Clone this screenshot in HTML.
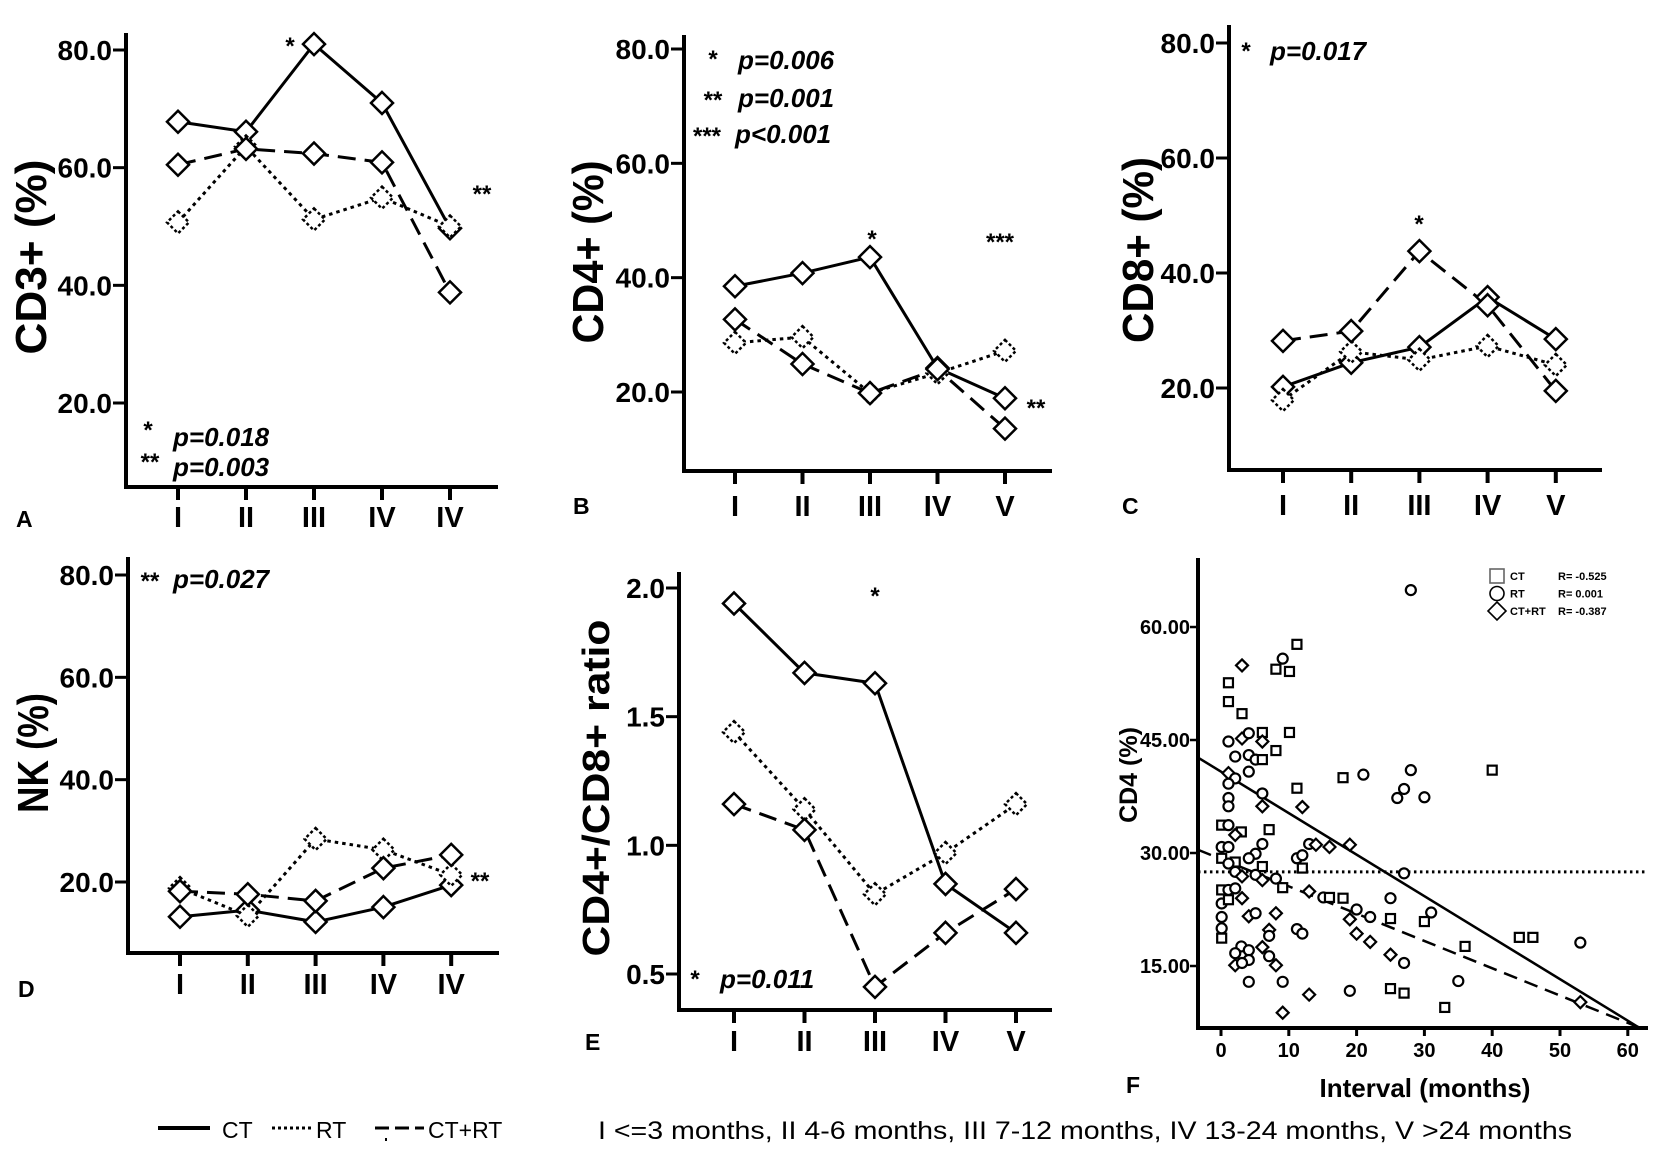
<!DOCTYPE html>
<html><head><meta charset="utf-8"><style>
html,body{margin:0;padding:0;background:#fff;}
svg{display:block;font-family:"Liberation Sans",Arial,sans-serif;}
</style></head><body>
<svg id="fig" width="1654" height="1157" viewBox="0 0 1654 1157"></svg>
<script>
// ---------- data ----------
const categoriesAD = ["I","II","III","IV","IV"];
const categoriesBCE = ["I","II","III","IV","V"];
const cd3CT = [67.8,66.1,81.0,71.0,49.7];
const cd3RT = [50.7,63.6,51.2,54.9,50.0];
const cd3Combo = [60.5,63.2,62.4,60.9,38.8];
const cd4CT = [38.5,40.8,43.6,24.2,18.9];
const cd4RT = [28.6,29.6,19.8,23.3,27.2];
const cd4Combo = [32.7,24.9,19.8,24.0,13.6];
const cd8CT = [20.2,24.4,27.1,35.8,28.5];
const cd8RT = [17.9,26.3,24.9,27.3,24.0];
const cd8Combo = [28.2,29.9,43.8,34.4,19.5];
const nkCT = [13.2,14.5,12.2,15.1,19.4];
const nkRT = [18.8,13.4,28.4,26.3,21.4];
const nkCombo = [18.2,17.6,16.3,22.7,25.3];
const ratioCT = [1.94,1.67,1.63,0.85,0.66];
const ratioRT = [1.44,1.14,0.81,0.97,1.16];
const ratioCombo = [1.16,1.06,0.45,0.66,0.83];
const pctTicks = ["20.0","40.0","60.0","80.0"];
const ratioTicks = ["0.5","1.0","1.5","2.0"];
const scatterTicksX = [0,10,20,30,40,50,60];
const scatterTicksY = ["15.00","30.00","45.00","60.00"];
const scatterMonths = [28,11.2,9.1,8.1,10.1,3.1,1.1,1.1,3.1,1.1,3.1,4.1,6.1,10.1,6.1,8.1,2.1,4.1,5.1,6.1,4.1,1.1,2.1,1.1,18,21,28,40,26,27,30,11.2,6.1,1.1,1.1,6.1,12,0.1,1.1,3,2.1,7.1,6.1,0.1,1.1,5.1,4.1,0.1,2.1,1.1,2.1,3.1,6.1,5.1,6.1,8.1,9.1,11.2,12,12,13,14,16,19,27,13,15.1,16,18,25,0.1,1.1,2.1,0.1,1.1,3.1,20,19,22,25,30,31,0.1,4.1,5.1,8.1,0.1,0.1,7.1,7.1,11.2,12,20,22,44,46,36,25,27,3,4.1,2.1,4.1,6.1,7.1,8.1,2.1,3.1,4.1,9.1,13,19,25,27,35,33,9.1,53,53];
const scatterCD4 = [64.9,57.7,55.8,54.4,54.1,54.9,52.6,50.1,48.5,44.8,45.2,45.9,46.0,46.0,44.8,43.6,42.8,43.0,42.4,42.4,40.8,40.6,39.9,39.2,40.0,40.4,41.0,41.0,37.3,38.5,37.4,38.6,37.9,37.3,36.2,36.2,36.1,33.7,33.7,32.8,32.4,33.1,31.2,30.8,30.8,29.9,29.3,29.3,28.8,28.6,27.5,26.9,28.2,27.1,26.4,26.6,25.4,29.3,29.7,28.0,31.2,31.1,30.8,31.1,27.3,24.9,24.1,24.1,24.0,24.0,25.1,25.1,25.3,23.3,23.8,24.0,22.5,21.2,21.5,21.3,20.9,22.1,21.5,21.6,22.0,22.0,20.0,18.7,19.8,19.0,19.9,19.3,19.3,18.2,18.8,18.8,17.6,16.5,15.4,17.6,17.1,16.7,15.8,17.5,16.3,15.1,15.1,15.4,12.9,12.9,11.2,11.7,12.0,11.4,13.0,9.5,8.8,18.1,10.2];
const scatterGroup = ["c","s","c","s","s","d","s","s","s","c","d","c","s","s","d","s","c","c","c","s","c","d","c","c","s","c","c","s","c","c","c","s","c","c","c","d","d","s","c","s","d","s","c","c","c","c","c","s","s","c","c","d","s","c","d","c","s","c","c","s","c","d","d","d","c","d","c","s","s","c","s","c","c","c","s","d","c","d","c","s","s","c","c","d","c","d","c","s","d","c","c","c","d","d","s","s","s","d","c","c","c","c","c","d","c","d","d","c","c","c","d","c","s","s","c","s","d","c","d"];
const fitIntercepts = [40.8,29.2,27.5];
const fitSlopes = [-0.551,-0.3625,0];
const legendR = ["R= -0.525","R=  0.001","R= -0.387"];

// ---------- helpers ----------
const NS="http://www.w3.org/2000/svg";
const svg=document.getElementById('fig');
function mk(tag,attrs,parent){const e=document.createElementNS(NS,tag);for(const k in attrs)e.setAttribute(k,attrs[k]);(parent||svg).appendChild(e);return e;}
function txt(s,attrs,parent){const e=mk('text',attrs,parent);e.textContent=s;return e;}
const DASH={ct:"none",rt:"3.5,4",combo:"18,9"};

function linePanel(p){
  const g=mk('g',{});
  
  
  const yv=v=>p.yTop+(p.vTop-v)*(p.yBot-p.yTop)/(p.vTop-p.vBot);
  const xc=i=>p.x0+i*p.dx;
  const ya=mk('line',{x1:p.ax,y1:p.axTop,x2:p.ax,y2:p.axY+2,stroke:'#000','stroke-width':4},g);
  
  
  const xa=mk('line',{x1:p.ax-2,y1:p.axY,x2:p.axRight,y2:p.axY,stroke:'#000','stroke-width':4},g);
  
  
  p.ticks.forEach((t,i)=>{
    const y=yv(p.tickVals[i]);
    mk('line',{x1:p.ax-13,y1:y,x2:p.ax,y2:y,stroke:'#000','stroke-width':3},g);
    const tl=txt(t,{x:p.ax-14,y:y+10,'text-anchor':'end','font-size':28,'font-weight':'bold'},g);
    
    
  });
  p.cats.forEach((c,i)=>{
    const x=xc(i);
    mk('line',{x1:x,y1:p.axY,x2:x,y2:p.axY+13,stroke:'#000','stroke-width':4},g);
    const cl=txt(c,{x:x,y:p.catY,'text-anchor':'middle','font-size':29,'font-weight':'bold'},g);
    
    
  });
  const yt=txt(p.title,{x:0,y:0,transform:`translate(${p.titleX},${p.titleY}) rotate(-90)`,'text-anchor':'middle','font-size':p.titleSize,'font-weight':'bold',textLength:p.titleLen,lengthAdjust:'spacingAndGlyphs'},g);
  
  
  const pl=txt(p.letter,{x:p.letterX,y:p.letterY,'font-size':23,'font-weight':'bold'},g);
  
  
  const series=[[p.ct,'ct'],[p.rt,'rt'],[p.combo,'combo']];
  series.forEach(([vals,k])=>{
    const pts=vals.map((v,i)=>xc(i)+','+yv(v)).join(' ');
    const l=mk('polyline',{points:pts,fill:'none',stroke:'#000','stroke-width':3,'stroke-dasharray':DASH[k]},g);
    
    
  });
  series.forEach(([vals,k])=>{
    vals.forEach((v,i)=>{
      const x=xc(i),y=yv(v),h=11;
      const m=mk('polygon',{points:`${x},${y-h} ${x+h},${y} ${x},${y+h} ${x-h},${y}`,fill:'#fff',stroke:'#000','stroke-width':2.5,'stroke-dasharray':k==='rt'?'3,2.5':'none'},g);
      
      
    });
  });
  p.notes.forEach(n=>{
    const t=txt(n[0],{x:n[1],y:n[2],'font-size':n[3]||26,'font-weight':'bold','font-style':n[4]?'italic':'normal','text-anchor':n[5]||'start'},g);
    
    
  });
}

linePanel({name:'panel-a-cd3',ax:126,axTop:33,axY:487,axRight:498,x0:178,dx:68,yTop:50,yBot:403,vTop:80,vBot:20,
  ticks:pctTicks,tickVals:[20,40,60,80],cats:categoriesAD,catY:527,ct:cd3CT,rt:cd3RT,combo:cd3Combo,
  title:'CD3+ (%)',titleX:46,titleY:257,titleSize:44,titleLen:195,letter:'A',letterX:16,letterY:527,
  notes:[['*',148,438,24,false,'middle'],['p=0.018',173,446,26,true],['**',150,470,24,false,'middle'],['p=0.003',173,476,26,true],['*',290,54,24,false,'middle'],['**',482,202,24,false,'middle']]});
linePanel({name:'panel-b-cd4',ax:684,axTop:35,axY:471,axRight:1052,x0:735,dx:67.5,yTop:49,yBot:392,vTop:80,vBot:20,
  ticks:pctTicks,tickVals:[20,40,60,80],cats:categoriesBCE,catY:516,ct:cd4CT,rt:cd4RT,combo:cd4Combo,
  title:'CD4+ (%)',titleX:603,titleY:252,titleSize:44,titleLen:183,letter:'B',letterX:573,letterY:514,
  notes:[['*',713,67,24,false,'middle'],['p=0.006',738,69,26,true],['**',713,108,24,false,'middle'],['p=0.001',738,107,26,true],['***',707,144,24,false,'middle'],['p<0.001',735,143,26,true],['*',872,247,24,false,'middle'],['***',1000,250,24,false,'middle'],['**',1036,416,24,false,'middle']]});
linePanel({name:'panel-c-cd8',ax:1229,axTop:25,axY:470,axRight:1602,x0:1283,dx:68.2,yTop:43,yBot:388,vTop:80,vBot:20,
  ticks:pctTicks,tickVals:[20,40,60,80],cats:categoriesBCE,catY:515,ct:cd8CT,rt:cd8RT,combo:cd8Combo,
  title:'CD8+ (%)',titleX:1153,titleY:250,titleSize:44,titleLen:186,letter:'C',letterX:1122,letterY:514,
  notes:[['*',1246,59,24,false,'middle'],['p=0.017',1270,60,26,true],['*',1419,232,24,false,'middle']]});
linePanel({name:'panel-d-nk',ax:128,axTop:557,axY:953,axRight:499,x0:180,dx:67.8,yTop:575,yBot:882,vTop:80,vBot:20,
  ticks:pctTicks,tickVals:[20,40,60,80],cats:categoriesAD,catY:994,ct:nkCT,rt:nkRT,combo:nkCombo,
  title:'NK (%)',titleX:48,titleY:753,titleSize:44,titleLen:120,letter:'D',letterX:18,letterY:997,
  notes:[['**',150,589,24,false,'middle'],['p=0.027',173,588,26,true],['**',480,889,24,false,'middle']]});
linePanel({name:'panel-e-ratio',ax:679,axTop:572,axY:1010,axRight:1052,x0:734,dx:70.5,yTop:588,yBot:974,vTop:2.0,vBot:0.5,
  ticks:ratioTicks,tickVals:[0.5,1.0,1.5,2.0],cats:categoriesBCE,catY:1051,ct:ratioCT,rt:ratioRT,combo:ratioCombo,
  title:'CD4+/CD8+ ratio',titleX:609,titleY:788,titleSize:38,titleLen:337,letter:'E',letterX:585,letterY:1050,
  notes:[['*',695,987,24,false,'middle'],['p=0.011',720,988,26,true],['*',875,604,24,false,'middle']]});

// ---------- panel F scatter ----------
(function(){
  const g=mk('g',{});
  
  
  const X=m=>1221+m*6.78;
  const Y=v=>966-(v-15)*7.533;
  const ax=1198, axY=1028, top=558, right=1648;
  const ya=mk('line',{x1:ax,y1:top,x2:ax,y2:axY+2,stroke:'#000','stroke-width':4},g);
  
  
  const xa=mk('line',{x1:ax-2,y1:axY,x2:right,y2:axY,stroke:'#000','stroke-width':4},g);
  
  
  scatterTicksY.forEach(t=>{
    const y=Y(parseFloat(t));
    mk('line',{x1:ax-8,y1:y,x2:ax,y2:y,stroke:'#000','stroke-width':2.5},g);
    const l=txt(t,{x:ax-8,y:y+7,'text-anchor':'end','font-size':20,'font-weight':'bold'},g);
    
    
  });
  scatterTicksX.forEach(t=>{
    const x=X(t);
    mk('line',{x1:x,y1:axY,x2:x,y2:axY+8,stroke:'#000','stroke-width':3},g);
    const l=txt(String(t),{x:x,y:1057,'text-anchor':'middle','font-size':20,'font-weight':'bold'},g);
    
    
  });
  const xt=txt('Interval (months)',{x:1425,y:1097,'text-anchor':'middle','font-size':26,'font-weight':'bold'},g);
  
  
  const yt=txt('CD4 (%)',{x:0,y:0,transform:'translate(1137,775) rotate(-90)','text-anchor':'middle','font-size':25,'font-weight':'bold'},g);
  
  
  const pl=txt('F',{x:1126,y:1093,'font-size':23,'font-weight':'bold'},g);
  
  
  const fitDash=["none","14,8","2.5,3.5"];
  fitIntercepts.forEach((b,i)=>{
    const m0=-3.4;
    let m1=fitSlopes[i]===0?62.9:(6.8-b)/fitSlopes[i];
    const l=mk('line',{x1:X(m0),y1:Y(b+fitSlopes[i]*m0),x2:X(m1),y2:Y(b+fitSlopes[i]*m1),stroke:'#000','stroke-width':i===2?3:2.5,'stroke-dasharray':fitDash[i]},g);
    
    
  });
  scatterMonths.forEach((m,i)=>{
    const x=X(m),y=Y(scatterCD4[i]),k=scatterGroup[i];
    let e;
    if(k==='s') e=mk('rect',{x:x-4.5,y:y-4.5,width:9,height:9,fill:'#fff',stroke:'#000','stroke-width':2.2},g);
    else if(k==='c') e=mk('circle',{cx:x,cy:y,r:5,fill:'#fff',stroke:'#000','stroke-width':2.2},g);
    else e=mk('polygon',{points:`${x},${y-6} ${x+6},${y} ${x},${y+6} ${x-6},${y}`,fill:'#fff',stroke:'#000','stroke-width':2.2},g);
    
    
  });
  const lg=mk('g',{},g);
  
  
  const names=['CT','RT','CT+RT'];
  names.forEach((n,i)=>{
    const y=576+i*17.5, x=1497;
    if(i===0) mk('rect',{x:x-7,y:y-7,width:14,height:14,fill:'#fff',stroke:'#666','stroke-width':1.6},lg);
    else if(i===1) mk('circle',{cx:x,cy:y,r:7,fill:'#fff',stroke:'#000','stroke-width':1.6},lg);
    else mk('polygon',{points:`${x},${y-9} ${x+9},${y} ${x},${y+9} ${x-9},${y}`,fill:'#fff',stroke:'#000','stroke-width':1.6},lg);
    const t=txt(n,{x:1510,y:y+4,'font-size':11,'font-weight':'bold'},lg);
    
    
    const r=txt(legendR[i],{x:1558,y:y+4,'font-size':11,'font-weight':'bold'},lg);
    
    
  });
})();

// ---------- bottom legend ----------
(function(){
  const g=mk('g',{});
  
  
  const y=1130;
  mk('line',{x1:158,y1:y-2,x2:210,y2:y-2,stroke:'#000','stroke-width':4},g);
  const a=txt('CT',{x:222,y:y+8,'font-size':23},g);
  
  
  mk('line',{x1:272,y1:y-2,x2:312,y2:y-2,stroke:'#000','stroke-width':3,'stroke-dasharray':'3,3'},g);
  const b=txt('RT',{x:316,y:y+8,'font-size':23},g);
  
  
  mk('line',{x1:375,y1:y-2,x2:424,y2:y-2,stroke:'#000','stroke-width':3,'stroke-dasharray':'14,6'},g);
  mk('rect',{x:385,y:y+8,width:2,height:3,fill:'#000'},g);
  const c=txt('CT+RT',{x:428,y:y+8,'font-size':23},g);
  
  
  const d=txt('I  <=3 months, II 4-6 months, III 7-12 months, IV 13-24 months, V >24 months',{x:598,y:y+9,'font-size':25,textLength:974,lengthAdjust:'spacingAndGlyphs'},g);
  
  
})();
</script>
</body></html>
